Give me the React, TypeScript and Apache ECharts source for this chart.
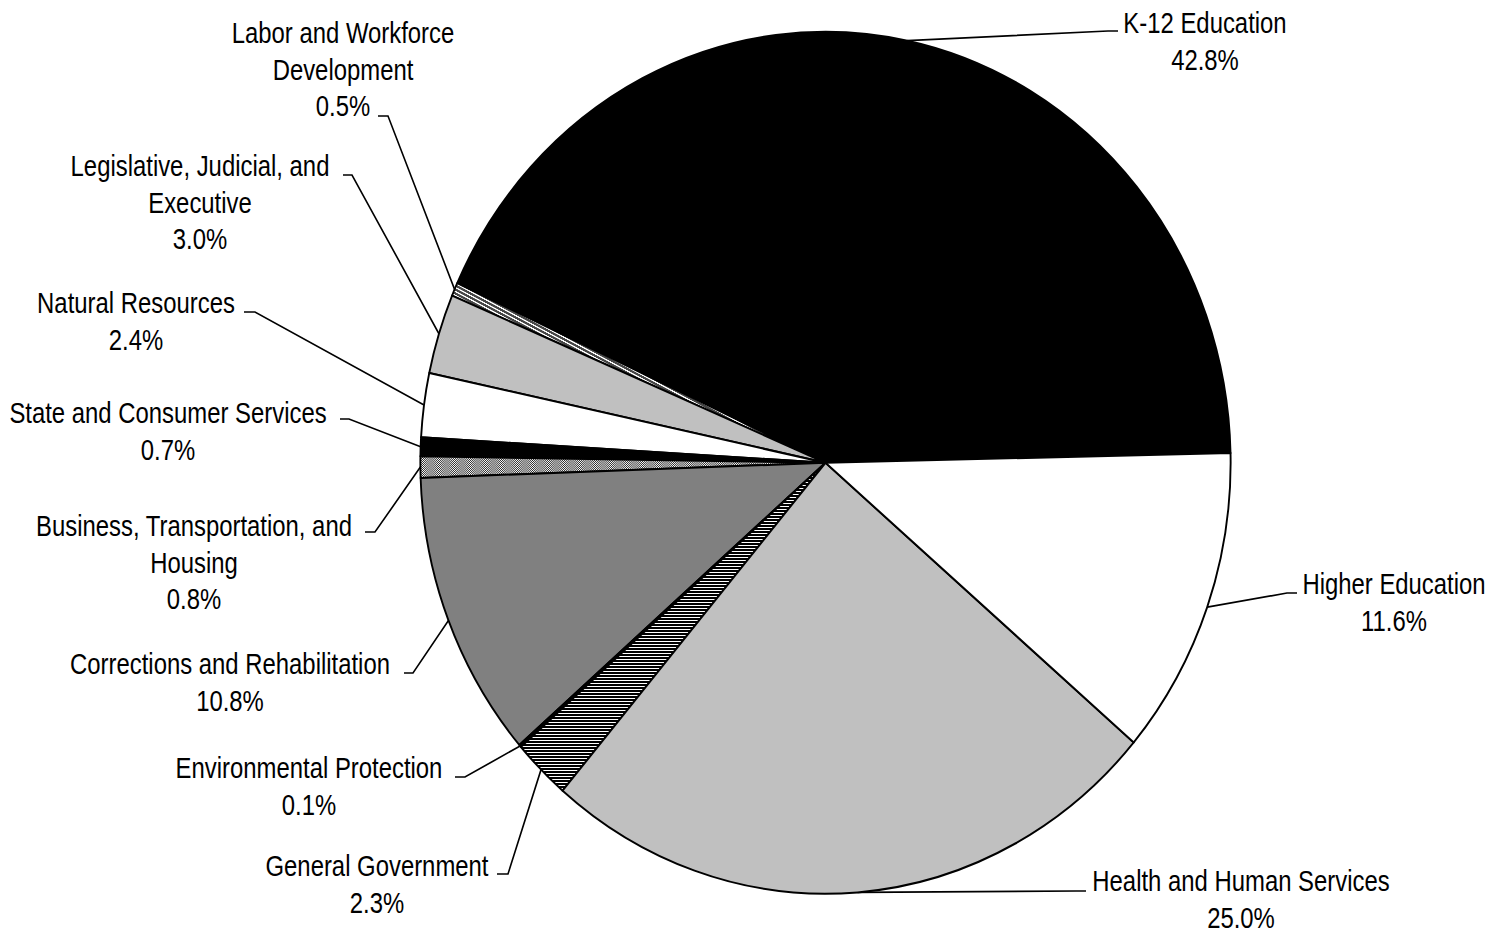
import React, { useEffect, useRef } from "react";
import * as echarts from "echarts";

// ---- data ----
const categories = [
  "K-12 Education",
  "Labor and Workforce\nDevelopment",
  "Legislative, Judicial, and\nExecutive",
  "Natural Resources",
  "State and Consumer Services",
  "Business, Transportation, and\nHousing",
  "Corrections and Rehabilitation",
  "Environmental Protection",
  "General Government",
  "Health and Human Services",
  "Higher Education",
];
const shares = [42.8, 0.5, 3.0, 2.4, 0.7, 0.8, 10.8, 0.1, 2.3, 25.0, 11.6];

// ---- styles ----
const fills = [
  "#000000",
  "diag",
  "#c0c0c0",
  "#ffffff",
  "#000000",
  "checker",
  "#808080",
  "#000000",
  "hstripe",
  "#c0c0c0",
  "#ffffff",
];

// label layout in page pixels: text centre x, first line centre y, bend point, end point
const labelPos = [
  { tx: 1205, ty: 22, bx: 1108, by: 31, ex: 1118, ey: 31 },
  { tx: 343, ty: 32, bx: 388, by: 116, ex: 378, ey: 116 },
  { tx: 200, ty: 165, bx: 352, by: 175, ex: 343, ey: 175 },
  { tx: 136, ty: 302, bx: 255, by: 312, ex: 244, ey: 312 },
  { tx: 168, ty: 412, bx: 349, by: 419, ex: 340, ey: 419 },
  { tx: 194, ty: 525, bx: 375, by: 532, ex: 365, ey: 532 },
  { tx: 230, ty: 663, bx: 413, by: 673, ex: 404, ey: 673 },
  { tx: 309, ty: 767, bx: 465, by: 777, ex: 455, ey: 777 },
  { tx: 377, ty: 865, bx: 508, by: 874, ex: 497, ey: 874 },
  { tx: 1241, ty: 880, bx: 1076, by: 891, ex: 1086, ey: 891 },
  { tx: 1394, ty: 583, bx: 1287, by: 593, ex: 1297, ey: 593 },
];

const PAGE_W = 1489;
const PAGE_H = 937;
const SX = 0.94; // horizontal squash of the whole chart
const TEXT_SX = 0.847; // extra narrowing of the label font
const CX = 825.5;
const CY = 462.75;
const R = 431;
const LH = 37;
const FONT_SIZE = 30;
const FONT = "'Liberation Sans', Arial, sans-serif";

function makePattern(kind: string): any {
  const c = document.createElement("canvas");
  let w = 2, h = 2;
  if (kind === "diag") { w = 8; h = 4; }
  if (kind === "hstripe") { w = 4; h = 3; }
  c.width = w; c.height = h;
  const ctx = c.getContext("2d")!;
  const img = ctx.createImageData(w, h);
  for (let y = 0; y < h; y++) {
    for (let x = 0; x < w; x++) {
      let v = 255;
      if (kind === "diag") v = (((x - 2 * y) % 8) + 8) % 8 < 5 ? 70 : 255;
      if (kind === "hstripe") v = y < 2 ? 0 : 255;
      if (kind === "checker") v = (x + y) % 2 === 0 ? 40 : 255;
      const k = (y * w + x) * 4;
      img.data[k] = v; img.data[k + 1] = v; img.data[k + 2] = v; img.data[k + 3] = 255;
    }
  }
  ctx.putImageData(img, 0, 0);
  return { image: c, repeat: "repeat" };
}

export default function App() {
  const ref = useRef<HTMLDivElement>(null);
  useEffect(() => {
    const chart = echarts.init(ref.current!, null, { renderer: "svg" });
    const data = categories.map((name, i) => ({
      name,
      value: shares[i],
      itemStyle: {
        color: fills[i].startsWith("#") ? fills[i] : makePattern(fills[i]),
      },
    }));
    const texts = categories.map((name, i) => {
      const L = labelPos[i];
      return {
        type: "text",
        x: L.tx / SX,
        y: L.ty - LH / 2,
        scaleX: TEXT_SX,
        silent: true,
        style: {
          text: `${name}\n${shares[i].toFixed(1)}%`,
          fontFamily: FONT,
          fontSize: FONT_SIZE,
          lineHeight: LH,
          fill: "#000000",
          align: "center",
          textAlign: "center",
          verticalAlign: "top",
          textVerticalAlign: "top",
        },
      };
    });
    chart.setOption({
      animation: false,
      backgroundColor: "#ffffff",
      graphic: { elements: texts },
      series: [
        {
          type: "pie",
          center: [CX / SX, CY],
          radius: R,
          startAngle: 1.3,
          clockwise: false,
          avoidLabelOverlap: false,
          silent: true,
          emphasis: { disabled: true },
          itemStyle: { borderColor: "#000000", borderWidth: 2 },
          label: {
            show: true,
            position: "outside",
            overflow: "none",
            color: "#000000",
            fontFamily: FONT,
            fontSize: 12,
            formatter: () => " ",
          },
          labelLine: {
            show: true,
            smooth: false,
            length: 10,
            length2: 10,
            lineStyle: { color: "#000000", width: 1.7 },
          },
          labelLayout: (params: any) => {
            const L = labelPos[params.dataIndex];
            const p0 = params.labelLinePoints ? params.labelLinePoints[0] : [L.bx / SX, L.by];
            return {
              x: L.tx / SX,
              y: L.ty,
              align: "center",
              verticalAlign: "middle",
              labelLinePoints: [p0, [L.bx / SX, L.by], [L.ex / SX, L.ey]],
            };
          },
          data,
        },
      ],
    });
    return () => chart.dispose();
  }, []);
  return (
    <div
      style={{
        position: "fixed",
        left: 0,
        top: 0,
        width: PAGE_W,
        height: PAGE_H,
        overflow: "hidden",
        background: "#ffffff",
      }}
    >
      <div
        ref={ref}
        style={{
          width: PAGE_W / SX,
          height: PAGE_H,
          transform: `scaleX(${SX})`,
          transformOrigin: "0 0",
        }}
      />
    </div>
  );
}
